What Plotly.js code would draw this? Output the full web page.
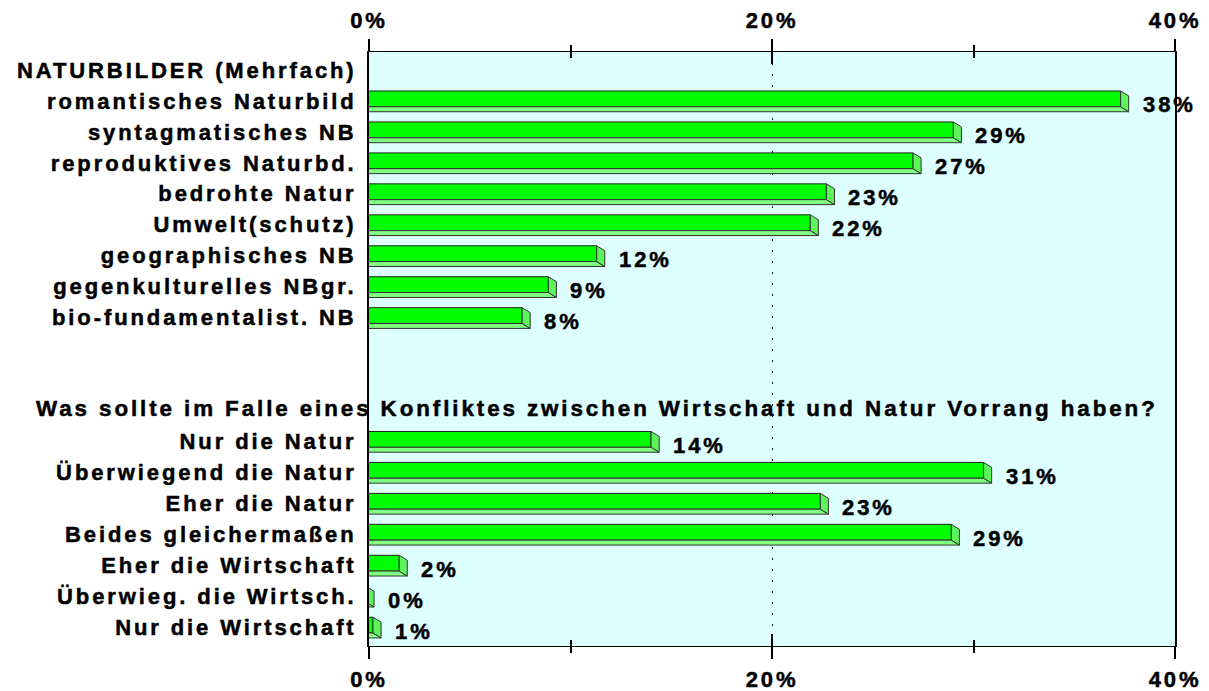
<!DOCTYPE html>
<html>
<head>
<meta charset="utf-8">
<script src="https://cdn.plot.ly/plotly-3.0.1.min.js"></script>
<style>
  html, body { margin: 0; padding: 0; background: #fff; }
  svg text { letter-spacing: 2.9px; stroke: #000; stroke-width: 0.5px; }
</style>
</head>
<body>
<div id="chart" style="width:1209px;height:691px;"></div>
<script>
const headerA = 'NATURBILDER (Mehrfach)';
const naturbildLabels = ['romantisches Naturbild', 'syntagmatisches NB', 'reproduktives Naturbd.', 'bedrohte Natur',
    'Umwelt(schutz)', 'geographisches NB', 'gegenkulturelles NBgr.', 'bio-fundamentalist. NB'];
const naturbildValues = [37.7, 29.4, 27.4, 23.1, 22.3, 11.7, 9.3, 8.0];

const headerB = 'Was sollte im Falle eines Konfliktes zwischen Wirtschaft und Natur Vorrang haben?';
const vorrangLabels = ['Nur die Natur', 'Überwiegend die Natur', 'Eher die Natur', 'Beides gleichermaßen',
    'Eher die Wirtschaft', 'Überwieg. die Wirtsch.', 'Nur die Wirtschaft'];
const vorrangValues = [14.4, 30.9, 22.8, 29.3, 1.9, 0.25, 0.6];

// row positions: header A on row 0, two empty rows, header B on row 11
const rowsA = naturbildLabels.map((_, i) => i + 1);
const rowsB = vorrangLabels.map((_, i) => i + 12);
const headerBRow = 11;

const values = naturbildValues.concat(vorrangValues);
const rows = rowsA.concat(rowsB);
const tickRows = [0].concat(rows);
const tickText = [headerA].concat(naturbildLabels, vorrangLabels);

// 3d look of the bars
const depthX = 0.4;     // depth in x (%)
const depthY = 0.16;    // depth in y (rows)
const faceTop = -0.32;  // front face top, relative to row
const faceBot = 0.19;   // front face bottom

const font = { family: 'Liberation Sans, Arial, sans-serif', size: 22, color: '#000', weight: 'bold' };

let bx = [], by = [], sx = [], sy = [];
values.forEach((v, i) => {
    const r = rows[i];
    bx.push(-depthX, v - depthX, v, 0, -depthX, null);
    by.push(r + faceBot, r + faceBot, r + faceBot + depthY, r + faceBot + depthY, r + faceBot, null);
    sx.push(v - depthX, v, v, v - depthX, v - depthX, null);
    sy.push(r + faceTop, r + faceTop + depthY, r + faceBot + depthY, r + faceBot, r + faceTop, null);
});

const front = {
    type: 'bar', orientation: 'h',
    x: values, y: rows, base: -depthX,
    width: 0.51, offset: faceTop,
    marker: { color: '#00FF00', line: { color: '#222', width: 1 } },
    hoverinfo: 'skip'
};
const bottomFace = {
    type: 'scatter', mode: 'lines', x: bx, y: by, fill: 'toself',
    fillcolor: '#80FF80', line: { color: '#333', width: 1 }, hoverinfo: 'skip'
};
const sideFace = {
    type: 'scatter', mode: 'lines', x: sx, y: sy, fill: 'toself',
    fillcolor: '#5CF55C', line: { color: '#333', width: 1 }, hoverinfo: 'skip'
};
const topAxisDummy = { type: 'scatter', x: [], y: [], xaxis: 'x2', yaxis: 'y', hoverinfo: 'skip' };
const innerTickDummy = { type: 'scatter', x: [], y: [], xaxis: 'x3', yaxis: 'y', hoverinfo: 'skip' };

const annotations = values.map((v, i) => ({
    x: v, y: rows[i], xref: 'x', yref: 'y',
    text: Math.round(v) + '%', showarrow: false,
    xanchor: 'left', xshift: 12, yshift: -4, font: font
}));
annotations.push({
    x: 0.283, y: headerBRow, xref: 'paper', yref: 'y',
    text: headerB, showarrow: false, xanchor: 'center', yshift: 2,
    font: Object.assign({}, font, { size: 22.4 })
});

const layout = {
    width: 1209, height: 691,
    margin: { l: 369, r: 34, t: 52, b: 45 },
    paper_bgcolor: '#FFFFFF',
    plot_bgcolor: '#DDFFFF',
    showlegend: false,
    font: font,
    xaxis: {
        range: [0, 40], tickmode: 'linear', tick0: 0, dtick: 20, ticksuffix: '%',
        ticks: 'outside', ticklen: 12, tickwidth: 2, tickcolor: '#000',
        minor: { dtick: 10, ticks: 'outside', ticklen: 6, tickwidth: 2, tickcolor: '#000' },
        showline: true, linecolor: '#000', linewidth: 1, mirror: 'ticks',
        showgrid: true, gridcolor: '#000', gridwidth: 1, griddash: '2px,9px',
        zeroline: false, tickfont: font, ticklabelstandoff: 2, fixedrange: true
    },
    xaxis2: {
        overlaying: 'x', anchor: 'y', side: 'top', range: [0, 40],
        tickmode: 'linear', tick0: 0, dtick: 20, ticksuffix: '%', ticks: '',
        showline: false, showgrid: false, zeroline: false,
        tickfont: font, ticklabelstandoff: 19, fixedrange: true
    },
    xaxis3: {
        overlaying: 'x', anchor: 'y', range: [0, 40],
        tickmode: 'linear', tick0: 0, dtick: 20,
        ticks: 'inside', ticklen: 12, tickwidth: 2, tickcolor: '#000',
        minor: { dtick: 10, ticks: 'inside', ticklen: 6, tickwidth: 2, tickcolor: '#000' },
        showline: true, linecolor: '#000', linewidth: 1, mirror: 'ticks',
        showticklabels: false, showgrid: false, zeroline: false, fixedrange: true
    },
    yaxis: {
        range: [18.61, -0.58],
        tickmode: 'array', tickvals: tickRows, ticktext: tickText,
        ticks: '', showline: true, linecolor: '#000', linewidth: 2, mirror: true,
        showgrid: false, zeroline: false, tickfont: font, ticklabelstandoff: 6, fixedrange: true
    },
    annotations: annotations
};

Plotly.newPlot('chart', [front, bottomFace, sideFace, topAxisDummy, innerTickDummy], layout,
    { displayModeBar: false, staticPlot: true });
</script>
</body>
</html>
